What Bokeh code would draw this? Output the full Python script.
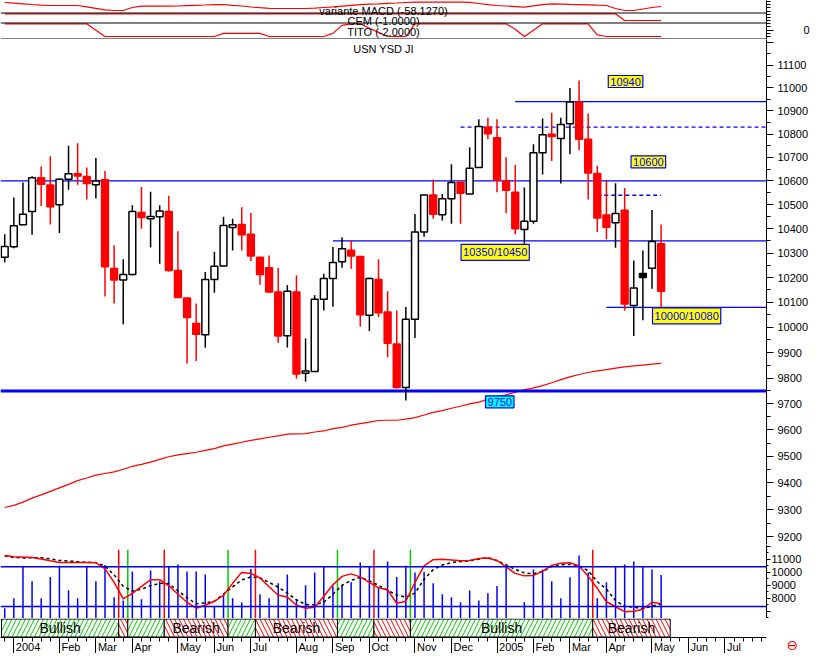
from bokeh.plotting import figure
from bokeh.layouts import column
from bokeh.models import Range1d, LinearAxis, FixedTicker, Span, Label
from bokeh.core.properties import value
from bokeh.embed import file_html
from bokeh.resources import INLINE

# ---------------- data ----------------
weeks = list(range(73))  # weekly bars, week 0 = 29 Dec 2003
opens = [10283, 10326, 10417, 10472, 10614, 10583, 10500, 10607, 10631, 10619,
         10584, 10605, 10237, 10190, 10213, 10468, 10442, 10450, 10472, 10229,
         10118, 10015, 9971, 10192, 10247, 10405, 10418, 10378, 10283, 10240,
         10142, 9967, 10142, 9819, 9826, 10113, 10196, 10265, 10312, 10286,
         10048, 10192, 10061, 9934, 9763, 10032, 10387, 10541, 10458, 10525,
         10595, 10545, 10657, 10829, 10784, 10600, 10552, 10397, 10431, 10720,
         10799, 10781, 10844, 10939, 10777, 10632, 10457, 10425, 10477, 10087,
         10217, 10238, 10338]
highs = [10378, 10530, 10594, 10620, 10661, 10705, 10610, 10750, 10760, 10657,
         10697, 10642, 10331, 10275, 10498, 10575, 10555, 10498, 10538, 10390,
         10118, 10095, 10223, 10306, 10450, 10442, 10490, 10466, 10283, 10290,
         10240, 10170, 10209, 9956, 10129, 10216, 10325, 10365, 10352, 10286,
         10200, 10275, 10145, 10067, 10081, 10462, 10541, 10606, 10545, 10671,
         10595, 10743, 10864, 10870, 10864, 10701, 10668, 10572, 10756, 10867,
         10892, 10870, 11000, 11032, 10888, 10664, 10603, 10590, 10570, 10270,
         10311, 10478, 10418]
lows = [10262, 10320, 10415, 10375, 10495, 10418, 10383, 10563, 10584, 10522,
        10526, 10124, 10095, 10012, 10210, 10400, 10323, 10256, 10225, 10118,
        9857, 9867, 9919, 10139, 10245, 10311, 10311, 10268, 10171, 10138,
        9939, 9920, 9798, 9786, 9824, 10067, 10082, 10240, 10236, 10003,
        9985, 10041, 9882, 9760, 9713, 9958, 10367, 10442, 10435, 10421,
        10421, 10545, 10657, 10777, 10552, 10465, 10378, 10338, 10421, 10627,
        10685, 10589, 10713, 10730, 10522, 10387, 10357, 10322, 10067, 9966,
        10028, 10155, 10077]
closes = [10327, 10413, 10460, 10614, 10586, 10492, 10607, 10630, 10621, 10589,
          10600, 10244, 10190, 10213, 10472, 10447, 10451, 10474, 10229, 10120,
          10039, 9973, 10192, 10246, 10414, 10417, 10375, 10288, 10213, 10142,
          9966, 10145, 9816, 9828, 10113, 10196, 10262, 10318, 10288, 10050,
          10196, 10058, 9937, 9763, 10032, 10387, 10541, 10461, 10525, 10594,
          10548, 10654, 10832, 10801, 10603, 10561, 10400, 10431, 10720, 10797,
          10789, 10841, 10939, 10777, 10634, 10445, 10407, 10464, 10093, 10158,
          10200, 10348, 10145]
black_body_weeks = [70]

moving_avg = [9308, 9316, 9328, 9343, 9355, 9368, 9381, 9394, 9408, 9418,
              9429, 9435, 9441, 9451, 9462, 9469, 9478, 9488, 9498, 9505,
              9510, 9515, 9522, 9529, 9539, 9546, 9553, 9560, 9566, 9572,
              9577, 9584, 9585, 9586, 9592, 9596, 9605, 9610, 9618, 9624,
              9630, 9636, 9637, 9637, 9641, 9647, 9657, 9667, 9674, 9683,
              9691, 9700, 9707, 9718, 9726, 9735, 9745, 9754, 9762, 9771,
              9782, 9794, 9805, 9814, 9822, 9828, 9833, 9839, 9844, 9848,
              9851, 9855, 9858]

macd = [82, 57, 36, 12, -9, -23, -23, -23, -23, -72,
        -121, -177, -198, -198, -93, -48, -48, -48, -48, -41,
        -27, -16, -6, 5, 12, -20, -41, -76, -100, -121,
        -128, -128, -128, -128, -118, -93, -69, -44, -20, 5,
        23, 36, 51, 65, 82, 93, 93, 93, 93, 93,
        93, 85, 47, 8, -23, -41, -62, -83, -37, 5,
        33, 26, 16, 9, -2, -13, -23, -128, -198, -198,
        -146, -93, -58.127]
cem = [1] * 68 + [-1] * 5
tito = ([2] * 10 + [0] + [-2] * 13 + [-1] * 5 + [-2] * 7 + [-1, 1.5, 2, 2, 0.6, -0.7]
        + [-2] * 3 + [2] * 11 + [0.3, -2, 0] + [2] * 6 + [-1.5] + [-2] * 7)

osc_red = [11308, 11215, 11185, 11154, 11038, 10900, 10769, 10769, 10769, 10769,
           10746, 10269, 9231, 7946, 8385, 8923, 9423, 9438, 8962, 8308,
           7692, 7231, 7462, 7769, 8231, 9154, 10000, 9923, 9577, 8885,
           8231, 8100, 7462, 7231, 7308, 8154, 9038, 9692, 9885, 9654,
           9231, 8808, 8654, 7615, 7769, 9231, 10500, 10977, 11023, 10962,
           10900, 10923, 11077, 11115, 10923, 10423, 9923, 9731, 9769, 10077,
           10538, 10715, 10746, 10500, 9692, 8769, 7731, 7346, 6962, 7000,
           7154, 7692, 7577]
osc_black = [11269, 11154, 11115, 11131, 11138, 11038, 10923, 10877, 10831, 10785,
             10754, 10485, 9808, 8923, 8554, 8692, 8977, 9154, 9131, 8577,
             8038, 7577, 7631, 7769, 8331, 8885, 9423, 9646, 9592, 9231,
             8862, 8400, 7885, 7515, 7500, 7692, 8308, 9000, 9385, 9615,
             9346, 9000, 8615, 8254, 8077, 8400, 9462, 10208, 10577, 10754,
             10831, 10900, 11023, 11154, 10900, 10585, 10231, 9962, 9900, 10062,
             10462, 10592, 10615, 10523, 10131, 9277, 8715, 7823, 7369, 7308,
             7208, 7385, 7562]
osc_bars = [7231, 8000, 10438, 9308, 8000, 9638, 10515, 8615, 8000, 10438,
            9308, 10562, 8077, 7823, 10077, 7923, 10154, 9308, 10438, 10615,
            10077, 10077, 9846, 7362, 8285, 8000, 7669, 10254, 8308, 8000,
            9154, 9846, 7923, 9000, 10000, 10438, 8923, 9054, 9231, 10769,
            10438, 8846, 10846, 9638, 10515, 10000, 10054, 9154, 8308, 8077,
            7692, 8592, 7823, 8385, 8946, 10400, None, 7692, 10231, 10231,
            9308, 8000, 9615, 11308, 10000, 8000, 9231, 10438, 10615, 10846,
            10438, 10231, 9792]
osc_levels = [10440, 7360]

band_edges = [-0.36, 12.5, 13.5, 17.5, 24.5, 27.5, 36.5, 40.5, 44.5, 64.5, 73.0]
band_state = ["Bullish", "Bearish", "Bullish", "Bearish", "Bullish",
              "Bearish", "Bullish", "Bearish", "Bullish", "Bearish"]

month_weeks = [1, 6, 10, 14, 19, 23, 27, 32, 36, 40, 45, 49, 54, 58, 62, 66, 71, 75, 79]
month_labels = ["2004", "Feb", "Mar", "Apr", "May", "Jun", "Jul", "Aug", "Sep", "Oct",
                "Nov", "Dec", "2005", "Feb", "Mar", "Apr", "May", "Jun", "Jul"]

# horizontal levels: (price, first week, last week or None = right edge, dashed)
level_price = [10600, 9750, 10350, 10940, 10830, 10540, 10080]
level_start = [None, None, 36, 56, 50, 65, 66]
level_end = [None, None, None, None, None, 72, None]
level_dashed = [False, False, False, False, True, True, False]

box_text = ["10940", "10600", "10350/10450", "10000/10080", "9750"]
box_week = [68.1, 70.6, 53.8, 74.8, 54.3]
box_price = [11028, 10681, 10303, 10046, 9708]
box_fill = ["#ffff00", "#ffff00", "#ffff00", "#ffff00", "#00ffff"]

instrument = "USN YSD JI"

for arr in (opens, highs, lows, closes, moving_avg, macd, cem, tito, osc_red, osc_black, osc_bars):
    assert len(arr) == 73, len(arr)

# ---------------- style ----------------
FONT = "Liberation Sans"
RED = "#ff0000"
BLUE = "#0000ff"
GREEN = "#00cc00"
X0, X1 = -0.463, 83.56
FW = 766
xr = Range1d(X0, X1)


def make(h, **kw):
    return figure(frame_width=FW, frame_height=h, x_range=xr, toolbar_location=None,
                  output_backend="svg", min_border=0, min_border_right=45,
                  outline_line_color=None, x_axis_type=None,
                  background_fill_color="white", border_fill_color="white", **kw)


def style_axis(ax, tick_out, minor_out, standoff):
    ax.axis_line_color = "black"
    ax.major_tick_out = tick_out
    ax.major_tick_in = 0
    ax.minor_tick_out = minor_out
    ax.minor_tick_in = 0
    ax.major_tick_line_color = "black"
    ax.minor_tick_line_color = "black"
    ax.major_label_text_font = FONT
    ax.major_label_text_font_size = "11px"
    ax.major_label_text_color = "black"
    ax.major_label_standoff = standoff


# ---------------- top indicator strip ----------------
top = make(39, y_range=Range1d(39, 0), y_axis_type=None)
top.extra_y_ranges = {"macd": Range1d(-1213, 152),
                      "cem": Range1d(-6.67, 4.97),
                      "tito": Range1d(-2.94, 9.34)}
top.line(weeks, macd, y_range_name="macd", line_color=RED, line_width=1.2)
top.line(weeks, cem, y_range_name="cem", line_color=RED, line_width=1.2)
top.line(weeks, tito, y_range_name="tito", line_color=RED, line_width=1.2)
top_titles = ["variante MACD (%.4f)" % macd[-1], "CEM (%.4f)" % cem[-1], "TITO (%.4f)" % tito[-1]]
top.text(x=[41.55] * 3, y=[10.3, 20.8, 31.5], text=top_titles, text_font=value(FONT),
         text_font_size="11px", text_align="center", text_baseline="middle", text_color="black")
for row in (12.5, 22.5, 38.5):
    top.add_layout(Span(location=row, dimension="width", line_color="black", line_width=1))
tax = LinearAxis(y_range_name="tito",
                 ticker=FixedTicker(ticks=[0], minor_ticks=[-2, -1, 1, 2, 3, 4, 5, 6, 7, 8, 9]))
style_axis(tax, 7, 4, 30)
top.add_layout(tax, "right")

# ---------------- main price chart ----------------
main = make(505, y_range=Range1d(9172, 11214), y_axis_type="log", y_axis_location="right")
main.ygrid.visible = False
ticks = list(range(9200, 11201, 100))
main.yaxis.ticker = FixedTicker(ticks=ticks, minor_ticks=list(range(9150, 11251, 50)))
main.yaxis.major_label_overrides = {t: ("" if t == 11200 else str(t)) for t in ticks}
style_axis(main.yaxis[0], 7, 4, 4)

up = [c >= o for o, c in zip(opens, closes)]
body_fill, body_line = [], []
for w, u in zip(weeks, up):
    if w in black_body_weeks:
        body_fill.append("black"); body_line.append("black")
    elif u:
        body_fill.append("white"); body_line.append("black")
    else:
        body_fill.append(RED); body_line.append(RED)

main.line(weeks, moving_avg, line_color=RED, line_width=1.2)
for price, s, e, d in zip(level_price, level_start, level_end, level_dashed):
    x0 = X0 if s is None else s
    x1 = X1 if e is None else e
    main.segment(x0=[x0], y0=[price], x1=[x1], y1=[price], line_color=BLUE,
                 line_width=3 if price == 9750 else 1.3,
                 line_dash="4 3" if d else "solid")
main.segment(x0=weeks, y0=lows, x1=weeks, y1=highs, line_color=body_line, line_width=1.5)
main.vbar(x=weeks, width=0.75, top=[max(o, c) for o, c in zip(opens, closes)],
          bottom=[min(o, c) for o, c in zip(opens, closes)],
          fill_color=body_fill, line_color=body_line, line_width=1.5)

for t, w, pr, f in zip(box_text, box_week, box_price, box_fill):
    main.add_layout(Label(x=w, y=pr, text=t, text_font=FONT, text_font_size="11px",
                          text_color=BLUE, text_align="center", text_baseline="middle",
                          background_fill_color=f, border_line_color=BLUE,
                          border_line_width=1.2, padding=2))
main.add_layout(Label(x=41.55, y=11173, text=instrument, text_font=FONT,
                      text_font_size="11px", text_color="black", text_align="center",
                      text_baseline="middle"))

# ---------------- oscillator panel ----------------
ind = make(74, y_range=Range1d(6438, 12154), y_axis_location="right")
ind.ygrid.visible = False
oticks = [7000, 8000, 9000, 10000, 11000, 12000]
ind.yaxis.ticker = FixedTicker(ticks=oticks, minor_ticks=[6500, 7500, 8500, 9500, 10500, 11500])
ind.yaxis.major_label_overrides = {t: ("" if t in (7000, 12000) else str(t)) for t in oticks}
style_axis(ind.yaxis[0], 4, 2, 1)

bw = [w for w, b in zip(weeks, osc_bars) if b is not None]
bv = [b for b in osc_bars if b is not None]
ind.segment(x0=bw, y0=[6438] * len(bw), x1=bw, y1=bv, line_color=BLUE, line_width=1.5)
for lv in osc_levels:
    ind.add_layout(Span(location=lv, dimension="width", line_color=BLUE, line_width=1.5))
sig_x = band_edges[1:-1]
sig_c = [GREEN if s == "Bullish" else RED for s in band_state[1:]]
ind.segment(x0=sig_x, y0=[6438] * len(sig_x), x1=sig_x, y1=[11750] * len(sig_x),
            line_color=sig_c, line_width=1.5)
ind.line(weeks, osc_black, line_color="black", line_width=1.5, line_dash="3 3")
ind.line(weeks, osc_red, line_color=RED, line_width=1.5)

# ---------------- bullish / bearish band ----------------
band = make(19, y_range=Range1d(-0.03, 1.03), y_axis_type=None)
lefts = band_edges[:-1]
rights = band_edges[1:]
band.quad(left=lefts, right=rights, bottom=0, top=1, fill_color="white",
          line_color="black", line_width=1,
          hatch_pattern=["right_diagonal_line" if s == "Bullish" else "left_diagonal_line" for s in band_state],
          hatch_color=[GREEN if s == "Bullish" else RED for s in band_state],
          hatch_scale=9, hatch_weight=1)
lab_x = [(l + r) / 2 for l, r, s in zip(lefts, rights, band_state) if r - l > 5]
lab_t = [s for l, r, s in zip(lefts, rights, band_state) if r - l > 5]
band.text(x=lab_x, y=[0.5] * len(lab_x), text=lab_t, text_font=value(FONT),
          text_font_size="14px", text_align="center", text_baseline="middle", text_color="black")

# ---------------- date axis ----------------
date = make(16, y_range=Range1d(0, 1), y_axis_type=None)
dax = LinearAxis(ticker=FixedTicker(ticks=month_weeks, minor_ticks=list(range(0, 84))),
                 major_tick_in=17, major_tick_out=0, minor_tick_in=4, minor_tick_out=0,
                 major_label_text_font_size="0px", major_label_standoff=0,
                 major_label_overrides={m: "" for m in month_weeks},
                 axis_line_color="black", major_tick_line_color="black",
                 minor_tick_line_color="black")
date.add_layout(dax, "above")
date.text(x=month_weeks, y=[0.38] * len(month_weeks), text=month_labels, x_offset=2,
          text_font=value(FONT), text_font_size="11px", text_align="left",
          text_baseline="middle", text_color="black")
# small red status symbol at the right of the date strip
sym = LinearAxis(ticker=FixedTicker(ticks=[0.45], minor_ticks=[]),
                 major_label_overrides={0.45: "\u2296"}, axis_line_color=None,
                 major_tick_line_color=None, minor_tick_line_color=None,
                 major_label_text_color=RED, major_label_text_font="DejaVu Sans",
                 major_label_text_font_size="14px", major_label_standoff=14)
date.add_layout(sym, "right")

layout = column(top, main, ind, band, date)
open("out.html", "w").write(file_html(layout, INLINE))
